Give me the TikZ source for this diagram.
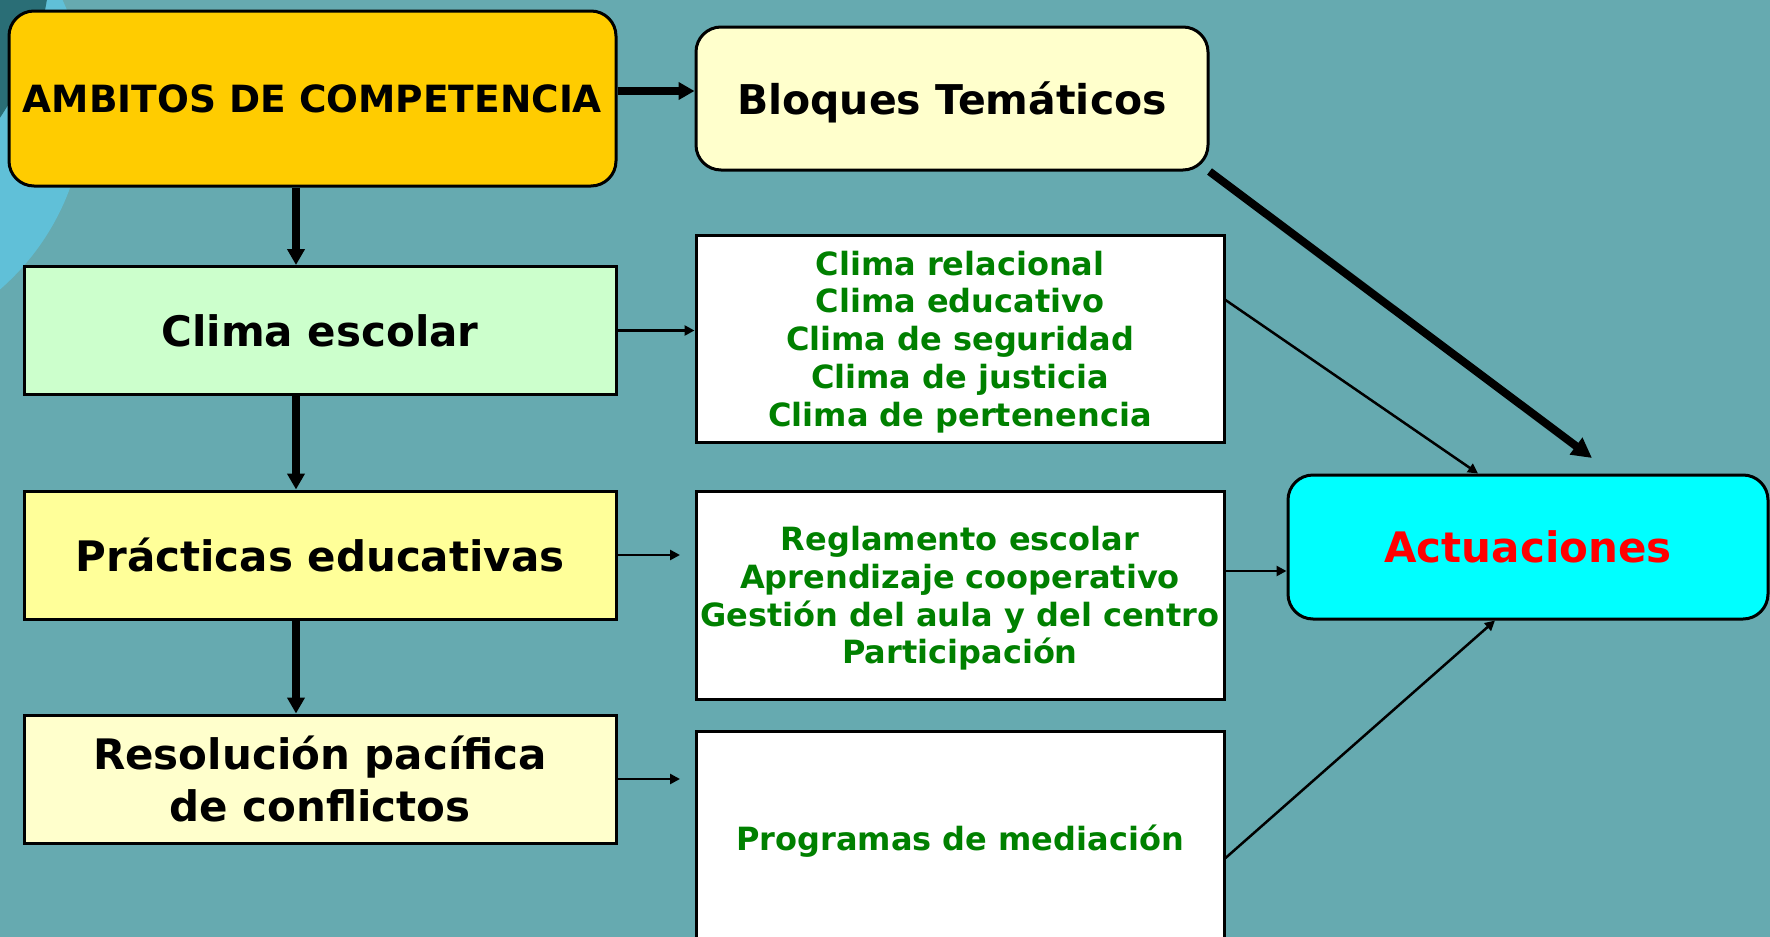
\documentclass[tikz,border=0pt]{standalone}
\usepackage{fontspec}
\setmainfont{DejaVu Sans}
\usetikzlibrary{arrows.meta}
\definecolor{bgteal}{HTML}{66AAB0}
\definecolor{ringcyan}{HTML}{60C0D8}
\definecolor{darkteal}{HTML}{2A6E76}
\definecolor{ambitosfill}{HTML}{FFCC00}
\definecolor{paleyellow}{HTML}{FFFFCC}
\definecolor{palegreen}{HTML}{CCFFCC}
\definecolor{lightyellow}{HTML}{FFFF99}
\definecolor{itemgreen}{HTML}{008000}
\definecolor{actcyan}{HTML}{00FFFF}
\definecolor{actred}{HTML}{FF0000}
\tikzset{gbox/.style={
    rectangle,
    draw,
    line width=3pt,
    align=center,
    inner sep=0pt,
    text depth=0pt,
    minimum width=592pt,
    minimum height=128pt,
    font=\bfseries\fontsize{42}{52}\selectfont
  },
  rbox/.style={gbox,rounded corners=25pt},
  topbox/.style={rbox,fill=ambitosfill,minimum width=607pt,minimum height=175pt,
    font=\bfseries\fontsize{37.5}{45}\selectfont},
  themebox/.style={rbox,fill=paleyellow,minimum width=512pt,minimum height=143pt,
    font=\bfseries\fontsize{41}{50}\selectfont},
  climbox/.style={gbox,fill=palegreen},
  practbox/.style={gbox,fill=lightyellow},
  resbox/.style={gbox,fill=paleyellow},
  itembox/.style={gbox,fill=white,text=itemgreen,minimum width=528pt,minimum height=207pt,
    font=\bfseries\fontsize{32}{37.8}\selectfont},
  actbox/.style={rbox,fill=actcyan,text=actred,minimum width=480pt,minimum height=144pt},
  fatarrow/.style={line width=8pt,-{Triangle[length=16pt,width=17pt]}},
  thinarrow/.style={line width=2.5pt,-{Triangle[length=10pt,width=10pt]}},
}
\begin{document}
\begin{tikzpicture}[x=1pt,y=-1pt]
  % background
  \useasboundingbox (0,0) rectangle (1770,937);
  \fill[bgteal] (0,0) rectangle (1770,937);
  \fill[ringcyan] (-162,103) circle[radius=247pt];
  \fill[darkteal] (-250,-50) circle[radius=301pt];
  % left column
  \node [topbox] (ambitos) at (312.5,98.5) {AMBITOS DE COMPETENCIA};
  \node [climbox] (clima) at (320,330.5) {Clima escolar};
  \node [practbox] (practicas) at (320,555) {Prácticas educativas};
  \node [resbox] (resolucion) at (320,779) {Resolución pacífica\\ de conflictos};
  % middle column
  \node [themebox] (bloques) at (952,98.5) {Bloques Temáticos};
  \node [itembox] (climabox) at (960,338.5) {Clima relacional\\ Clima educativo\\
    Clima de seguridad\\ Clima de justicia\\ Clima de pertenencia};
  \node [itembox,minimum height=208pt] (reglabox) at (960,595) {Reglamento escolar\\
    Aprendizaje cooperativo\\ Gestión del aula y del centro\\ Participación};
  \node [itembox,minimum height=214pt] (mediabox) at (960,838) {Programas de mediación};
  % right
  \node [actbox] (actuaciones) at (1528,547) {Actuaciones};
  \coordinate (pracend) at (680,555);
  \coordinate (resend) at (680,779);
  \coordinate (bloqend) at (1592,458);
  \coordinate (actin) at ([yshift=-24pt]actuaciones.west);
  % connectors
  \draw[fatarrow] ([yshift=7.5pt]ambitos.east) -- ([yshift=7.5pt]bloques.west);
  \draw[fatarrow] ([xshift=-16.5pt]ambitos.south) -- ([xshift=-24pt]clima.north);
  \draw[fatarrow] ([xshift=-24pt]clima.south) -- ([xshift=-24pt]practicas.north);
  \draw[fatarrow] ([xshift=-24pt]practicas.south) -- ([xshift=-24pt]resolucion.north);
  \draw[thinarrow] (clima.east) -- (clima.east -| climabox.west);
  \draw[thinarrow] (practicas.east) -- (pracend);
  \draw[thinarrow] (resolucion.east) -- (resend);
  \draw[fatarrow,-{Triangle[length=20pt,width=20pt]}] (bloques.south east) -- (bloqend);
  \draw[thinarrow] ([yshift=38.5pt]climabox.east) -- ([xshift=-50pt]actuaciones.north);
  \draw[thinarrow] (reglabox.east |- actin) -- (actin);
  \draw[thinarrow] ([yshift=-20pt]mediabox.east) -- ([xshift=-33pt]actuaciones.south);
\end{tikzpicture}
\end{document}
